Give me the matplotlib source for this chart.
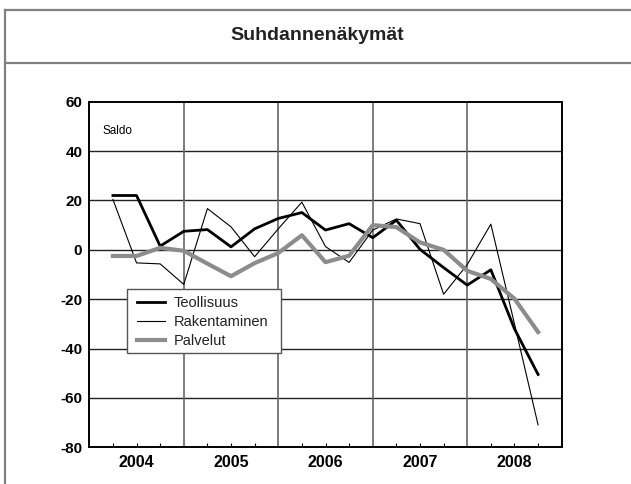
# -*- coding: utf-8 -*-
import matplotlib
matplotlib.use('Agg')
import matplotlib.pyplot as plt
from matplotlib.lines import Line2D
from matplotlib.patches import Rectangle

plt.rcParams['font.family'] = ['Liberation Sans', 'DejaVu Sans']

#---------------------------------------------------------------
## Datos (neljännekset, 2004 Q2 ... 2008 Q4)
vuodet = ['2004', '2005', '2006', '2007', '2008']
neljannes = list(range(1, 20))

teollisuus = [22, 22, 1.5, 7.5, 8.2, 1.2, 8.5, 12.7, 15.1, 8, 10.6, 4.9,
              12, 0.2, -7.2, -14.3, -8.1, -32, -50.5]
rakentaminen = [20.4, -5.3, -5.7, -14, 16.7, 9.3, -2.8, 8.5, 19.3, 1.3,
                -5.1, 8, 12.5, 10.6, -18, -6, 10.4, -30, -70.9]
palvelut = [-2.5, -2.5, 0.8, -0.4, -5.6, -10.7, -5.4, -1.3, 5.9, -5,
            -2.4, 10, 9.2, 3, 0, -8.5, -11.8, -19.8, -33.3]

#---------------------------------------------------------------
fig = plt.figure(figsize=(6.31, 4.84), dpi=100)

# marco exterior y título
W, H = 631.0, 484.0
marco = '#808080'
fig.add_artist(Line2D([5/W, 5/W], [0, 1 - 9.5/H], color=marco, lw=1.6))
fig.add_artist(Line2D([5/W, 1], [1 - 9.5/H, 1 - 9.5/H], color=marco, lw=1.6))
fig.add_artist(Line2D([5/W, 1], [1 - 62.5/H, 1 - 62.5/H], color=marco, lw=1.6))
fig.text(317/W, 1 - 36/H, 'Suhdannenäkymät', ha='center', va='center',
         fontsize=14, fontweight='bold', color='#222222')

# ejes (en píxeles del original)
x0, x1, y0, y1 = 89.3, 561.7, 101.7, 447.3
ax = fig.add_axes([x0/W, 1 - y1/H, (x1 - x0)/W, (y1 - y0)/H])
def axc(px, py):
    return ((px - x0)/(x1 - x0), (y1 - py)/(y1 - y0))

ax.plot(neljannes, teollisuus, color='black', lw=2.0, label='Teollisuus')
ax.plot(neljannes, rakentaminen, color='black', lw=0.8, label='Rakentaminen')
ax.plot(neljannes, palvelut, color='#8c8c8c', lw=3.0, label='Palvelut')

ax.set_xlim(0, 20)
ax.set_ylim(-80, 60)
ax.set_yticks(range(-80, 61, 20))
ax.set_yticklabels([str(v) for v in range(-80, 61, 20)], fontsize=11,
                   fontweight='bold')

# viivat
for y in range(-60, 60, 20):
    ax.axhline(y, color='#222222', lw=1.0, zorder=0)
for x in range(4, 20, 4):
    ax.axvline(x, color='#666666', lw=1.2, zorder=0)

ax.set_xticks([q for q in range(1, 20) if q % 4 != 0])
ax.set_xticklabels([])
ax.tick_params(axis='x', direction='in', length=3, width=0.8)
ax.tick_params(axis='y', length=0, pad=5)
for i, v in enumerate(vuodet):
    ax.text(4*i + 2, -83, v, ha='center', va='top', fontsize=11.5,
            fontweight='bold', transform=ax.transData)

for s in ax.spines.values():
    s.set_linewidth(1.4)

ax.text(0.55, 48, 'Saldo', fontsize=8.5, va='center')

# selite: kehys erikseen
bx, by = axc(126.7, 352.7)
bx2, by2 = axc(281, 289)
ax.add_patch(Rectangle((bx, by), bx2 - bx, by2 - by, transform=ax.transAxes,
                       facecolor='white', edgecolor='#555555', lw=1.0,
                       zorder=4))
leg = ax.legend(loc='upper left', bbox_to_anchor=axc(137, 296),
                fontsize=10.5, frameon=False, borderpad=0,
                labelspacing=0.35, handlelength=1.9, handletextpad=0.6,
                borderaxespad=0)
leg.set_zorder(5)
for t in leg.get_texts():
    t.set_color('#222222')

fig.savefig('out.png', dpi=100)
